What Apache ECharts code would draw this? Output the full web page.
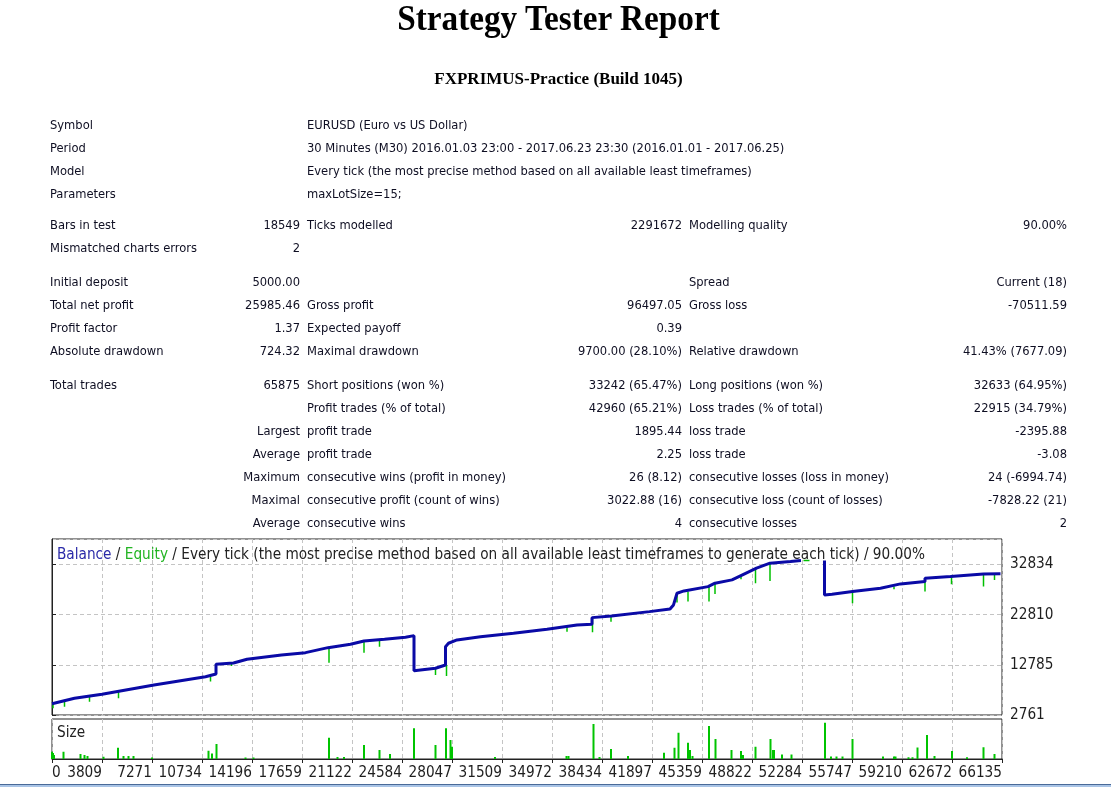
<!DOCTYPE html>
<html>
<head>
<meta charset="utf-8">
<title>Strategy Tester Report</title>
<script src="https://cdn.jsdelivr.net/npm/echarts@6/dist/echarts.min.js"></script>
<style>
  html, body { margin: 0; padding: 0; background: #fff; }
  #page { position: relative; width: 1111px; height: 787px; overflow: hidden; }
  #chart { position: absolute; left: 0; top: 0; width: 1111px; height: 787px; }
  .head { position: absolute; left: 0; width: 1117px; text-align: center; font-family: "Liberation Serif", "Times New Roman", serif; font-weight: bold; color: #000; white-space: nowrap; }
  .cell { position: absolute; height: 16px; line-height: 16px; white-space: nowrap; font-family: "DejaVu Sans Condensed", "DejaVu Sans", sans-serif; font-size: 12.8px; color: #0e0e22; }
  .bottomline { position: absolute; left: 0; top: 784px; width: 1111px; height: 1px; background: #4a6a98; }
  .bottomline2 { position: absolute; left: 0; top: 785px; width: 1111px; height: 2px; background: #a9c4e6; }
</style>
</head>
<body>
<div id="page">
  <div id="chart"></div>
  <div class="head" style="top:1px;font-size:35px;line-height:35px;transform:scaleX(0.95);">Strategy Tester Report</div>
  <div class="head" style="top:70px;font-size:17px;line-height:17px;">FXPRIMUS-Practice (Build 1045)</div>
  <div id="report"></div>
  <div class="bottomline"></div>
  <div class="bottomline2"></div>
</div>
<script>
// report rows: [label, value, label, value, label, value]; a number is an extra gap in px
var reportRows = [
  ['Symbol', '', 'EURUSD (Euro vs US Dollar)'],
  ['Period', '', '30 Minutes (M30) 2016.01.03 23:00 - 2017.06.23 23:30 (2016.01.01 - 2017.06.25)'],
  ['Model', '', 'Every tick (the most precise method based on all available least timeframes)'],
  ['Parameters', '', 'maxLotSize=15;'],
  8,
  ['Bars in test', '18549', 'Ticks modelled', '2291672', 'Modelling quality', '90.00%'],
  ['Mismatched charts errors', '2'],
  11,
  ['Initial deposit', '5000.00', '', '', 'Spread', 'Current (18)'],
  ['Total net profit', '25985.46', 'Gross profit', '96497.05', 'Gross loss', '-70511.59'],
  ['Profit factor', '1.37', 'Expected payoff', '0.39'],
  ['Absolute drawdown', '724.32', 'Maximal drawdown', '9700.00 (28.10%)', 'Relative drawdown', '41.43% (7677.09)'],
  11,
  ['Total trades', '65875', 'Short positions (won %)', '33242 (65.47%)', 'Long positions (won %)', '32633 (64.95%)'],
  ['', '', 'Profit trades (% of total)', '42960 (65.21%)', 'Loss trades (% of total)', '22915 (34.79%)'],
  ['', 'Largest', 'profit trade', '1895.44', 'loss trade', '-2395.88'],
  ['', 'Average', 'profit trade', '2.25', 'loss trade', '-3.08'],
  ['', 'Maximum', 'consecutive wins (profit in money)', '26 (8.12)', 'consecutive losses (loss in money)', '24 (-6994.74)'],
  ['', 'Maximal', 'consecutive profit (count of wins)', '3022.88 (16)', 'consecutive loss (count of losses)', '-7828.22 (21)'],
  ['', 'Average', 'consecutive wins', '4', 'consecutive losses', '2']
];

// x axis tick labels (trade numbers), one per grid column
var xLabels = ['0', '3809', '7271', '10734', '14196', '17659', '21122', '24584', '28047', '31509',
  '34972', '38434', '41897', '45359', '48822', '52284', '55747', '59210', '62672', '66135'];

// y axis tick values
var yTicks = [2761, 12785.33, 22809.67, 32834];

// balance curve: [x position in tick columns, balance]
var balance = [
  [0, 5000], [0.45, 6098], [1.0, 6897], [2.04, 8755], [3.07, 10413], [3.28, 10953], [3.28, 12891],
  [3.63, 13150], [3.63, 13410], [3.9, 13890], [4.59, 14749], [5.07, 15209], [5.52, 16208],
  [5.97, 16887], [6.24, 17546], [6.65, 17886], [7.07, 18285], [7.24, 18605], [7.24, 11612],
  [7.67, 12092], [7.87, 12751], [7.87, 16407], [7.93, 17087], [7.97, 17406], [8.1, 17746],
  [8.57, 18405], [9.23, 19085], [9.9, 19884], [10.5, 20743], [10.8, 20883], [10.8, 22202],
  [11.19, 22541], [11.95, 23400], [12.36, 23940], [12.43, 24739], [12.5, 27077], [12.64, 27536],
  [13.12, 28395], [13.26, 29075], [13.6, 29734], [13.81, 30733], [14.09, 32071], [14.36, 33070],
  [14.77, 33390], [14.98, 33590], [15.2, '-'], [15.45, 33590], [15.45, 26737], [15.6, 26877],
  [16.01, 27396], [16.57, 28075], [16.97, 28935], [17.46, 29434], [17.46, 30073], [17.97, 30394],
  [18.63, 30933], [18.97, 30985]
];

// equity dips: [x position, top, bottom]
var equityDips = [
  [0.02, 5099, 4100], [0.25, 5418, 4419], [0.75, 6417, 5418], [1.33, 7416, 6098],
  [3.17, 10413, 9454], [3.59, 13350, 12551], [5.54, 16407, 13211], [6.24, 17546, 15209],
  [6.55, 17746, 16407], [7.67, 12212, 10753], [7.89, 12751, 10553], [10.3, 20283, 19404],
  [10.81, 22082, 19285], [11.18, 22541, 21402], [12.5, 26737, 25199], [12.72, 27396, 25398],
  [13.14, 28535, 25398], [13.26, 28935, 26937], [13.78, 30733, 29875], [14.07, 32071, 29075],
  [14.36, 33070, 29534], [16.01, 27396, 25079], [16.84, 28395, 27876], [17.46, 29734, 27396],
  [17.99, 30334, 28875], [18.63, 30933, 28395], [18.85, 30933, 29734]
];
// equity visible above the hidden balance segment
var equityTop = [[15.03, 33590], [15.15, 33590]];

// lot sizes: [x position, lots]
var sizes = [
  [0.0, 2.9], [0.02, 2.4], [0.04, 1.6], [0.23, 2.9], [0.57, 2], [0.65, 1.6], [0.71, 1.2], [1.03, 0.9],
  [1.32, 4.5], [1.43, 1.2], [1.53, 1.2], [1.63, 1.2], [2.0, 0.6], [3.13, 3.3], [3.2, 2.2], [3.29, 6],
  [3.87, 0.6], [4.03, 0.6], [5.54, 8.5], [5.71, 0.8], [5.84, 0.8], [6.24, 5.6], [6.55, 3.6],
  [6.76, 2], [7.24, 12.3], [7.67, 5.6], [7.88, 12.3], [7.97, 7.6], [8.0, 4.9], [8.86, 0.8],
  [10.29, 1.2], [10.33, 1.2], [10.83, 14], [10.95, 0.8], [11.18, 4], [11.52, 1.2], [12.24, 2.5],
  [12.45, 4.5], [12.53, 10.5], [12.72, 6.5], [12.76, 3.6], [12.81, 1.2], [13.14, 13.2], [13.27, 8],
  [13.59, 3.6], [13.78, 3.2], [13.82, 1.6], [14.07, 4.9], [14.37, 8], [14.42, 3.6], [14.44, 3.6],
  [14.6, 1.8], [14.79, 1.8], [15.46, 14.5], [15.58, 1], [15.69, 1], [15.81, 1], [16.01, 8],
  [16.62, 1], [16.84, 1], [16.87, 1], [17.13, 0.7], [17.21, 0.7], [17.31, 4.6], [17.5, 9.6],
  [17.65, 1.2], [18.0, 3.2], [18.3, 0.7], [18.63, 4.7], [18.85, 2]
];

// report text
var colX = [50, 300, 307, 682, 689, 1067];
var colRight = [false, true, false, true, false, true];
var rowY = 124.7;
var report = document.getElementById('report');
reportRows.forEach(function(row) {
  if (typeof row === 'number') { rowY += row; return; }
  row.forEach(function(txt, i) {
    if (!txt) return;
    var d = document.createElement('div');
    d.className = 'cell';
    d.textContent = txt;
    d.style.top = (rowY - 8) + 'px';
    if (colRight[i]) {
      d.style.right = (1111 - colX[i]) + 'px';
      d.style.textAlign = 'right';
    } else {
      d.style.left = colX[i] + 'px';
    }
    report.appendChild(d);
  });
  rowY += 23;
});

var equity = [];
equityDips.forEach(function(d) {
  equity.push([d[0], d[1]], [d[0], d[2]], [d[0], '-']);
});
equityTop.forEach(function(p) { equity.push(p); });

var fontFamily = '"DejaVu Sans Condensed", "DejaVu Sans", sans-serif';
var yStep = yTicks[1] - yTicks[0];
var dashed = { show: true, lineStyle: { color: '#c4c4c4', type: [4, 3], width: 1 } };

var myChart = echarts.init(document.getElementById('chart'));
var option = {
  animation: false,
  backgroundColor: '#fff',
  title: [
    {
      text: '{b|Balance} / {g|Equity} / Every tick (the most precise method based on all available least timeframes to generate each tick) / 90.00%',
      left: 52, top: 543,
      textStyle: {
        fontFamily: fontFamily, fontSize: 15.2, fontWeight: 'normal', color: '#222',
        rich: {
          b: { color: '#2a2aa8', fontFamily: fontFamily, fontSize: 15.2 },
          g: { color: '#22b422', fontFamily: fontFamily, fontSize: 15.2 }
        }
      }
    },
    {
      text: 'Size', left: 52, top: 721,
      textStyle: { fontFamily: fontFamily, fontSize: 15.2, fontWeight: 'normal', color: '#222' }
    }
  ],
  grid: [
    { left: 52, top: 539, width: 950, height: 176, show: true, borderColor: '#222', borderWidth: 1 },
    { left: 52, top: 719, width: 950, height: 40, show: true, borderColor: '#222', borderWidth: 1 }
  ],
  xAxis: [
    {
      gridIndex: 0, type: 'value', min: 0, max: 19, interval: 1,
      axisLine: { show: false }, axisTick: { show: false }, axisLabel: { show: false },
      splitLine: dashed
    },
    {
      gridIndex: 1, type: 'value', position: 'bottom', min: 0, max: 19, interval: 1,
      axisLine: { show: true, lineStyle: { color: '#222' } },
      axisTick: { show: true, length: 4, lineStyle: { color: '#222' } },
      axisLabel: {
        align: 'right', margin: 7, color: '#1e1e1e', fontFamily: fontFamily, fontSize: 15.2,
        formatter: function(v) { return v === 0 ? '' : xLabels[v]; }
      },
      splitLine: dashed
    },
    {
      gridIndex: 1, type: 'value', position: 'bottom', min: 0, max: 19, interval: 19,
      axisLine: { show: false }, axisTick: { show: false }, splitLine: { show: false },
      axisLabel: {
        align: 'left', margin: 7, color: '#1e1e1e', fontFamily: fontFamily, fontSize: 15.2,
        showMaxLabel: false,
        formatter: function(v) { return v === 0 ? xLabels[0] : ''; }
      }
    }
  ],
  yAxis: [
    {
      gridIndex: 0, type: 'value', position: 'right',
      min: yTicks[0], max: 37900, interval: yStep,
      axisLine: { show: true, lineStyle: { color: '#222' } },
      axisTick: { show: true, length: 4, lineStyle: { color: '#222' } },
      axisLabel: {
        margin: 8, padding: [4, 0, 0, 0], color: '#1e1e1e', fontFamily: fontFamily, fontSize: 15.2,
        showMaxLabel: false,
        formatter: function(v) { return String(Math.round(v)); }
      },
      splitLine: dashed
    },
    {
      gridIndex: 1, type: 'value', min: 0, max: 16, show: false, splitLine: { show: false }
    }
  ],
  series: [
    {
      name: 'Equity', type: 'line', xAxisIndex: 0, yAxisIndex: 0, data: equity,
      showSymbol: false, lineStyle: { color: '#00c000', width: 1.5 }, z: 2
    },
    {
      name: 'Balance', type: 'line', xAxisIndex: 0, yAxisIndex: 0, data: balance,
      showSymbol: false, lineStyle: { color: '#0a0aa6', width: 3 }, z: 3
    },
    {
      name: 'Size', type: 'bar', xAxisIndex: 1, yAxisIndex: 1, data: sizes,
      barWidth: 2, itemStyle: { color: '#00c400' }
    }
  ]
};
myChart.setOption(option);
</script>
</body>
</html>
